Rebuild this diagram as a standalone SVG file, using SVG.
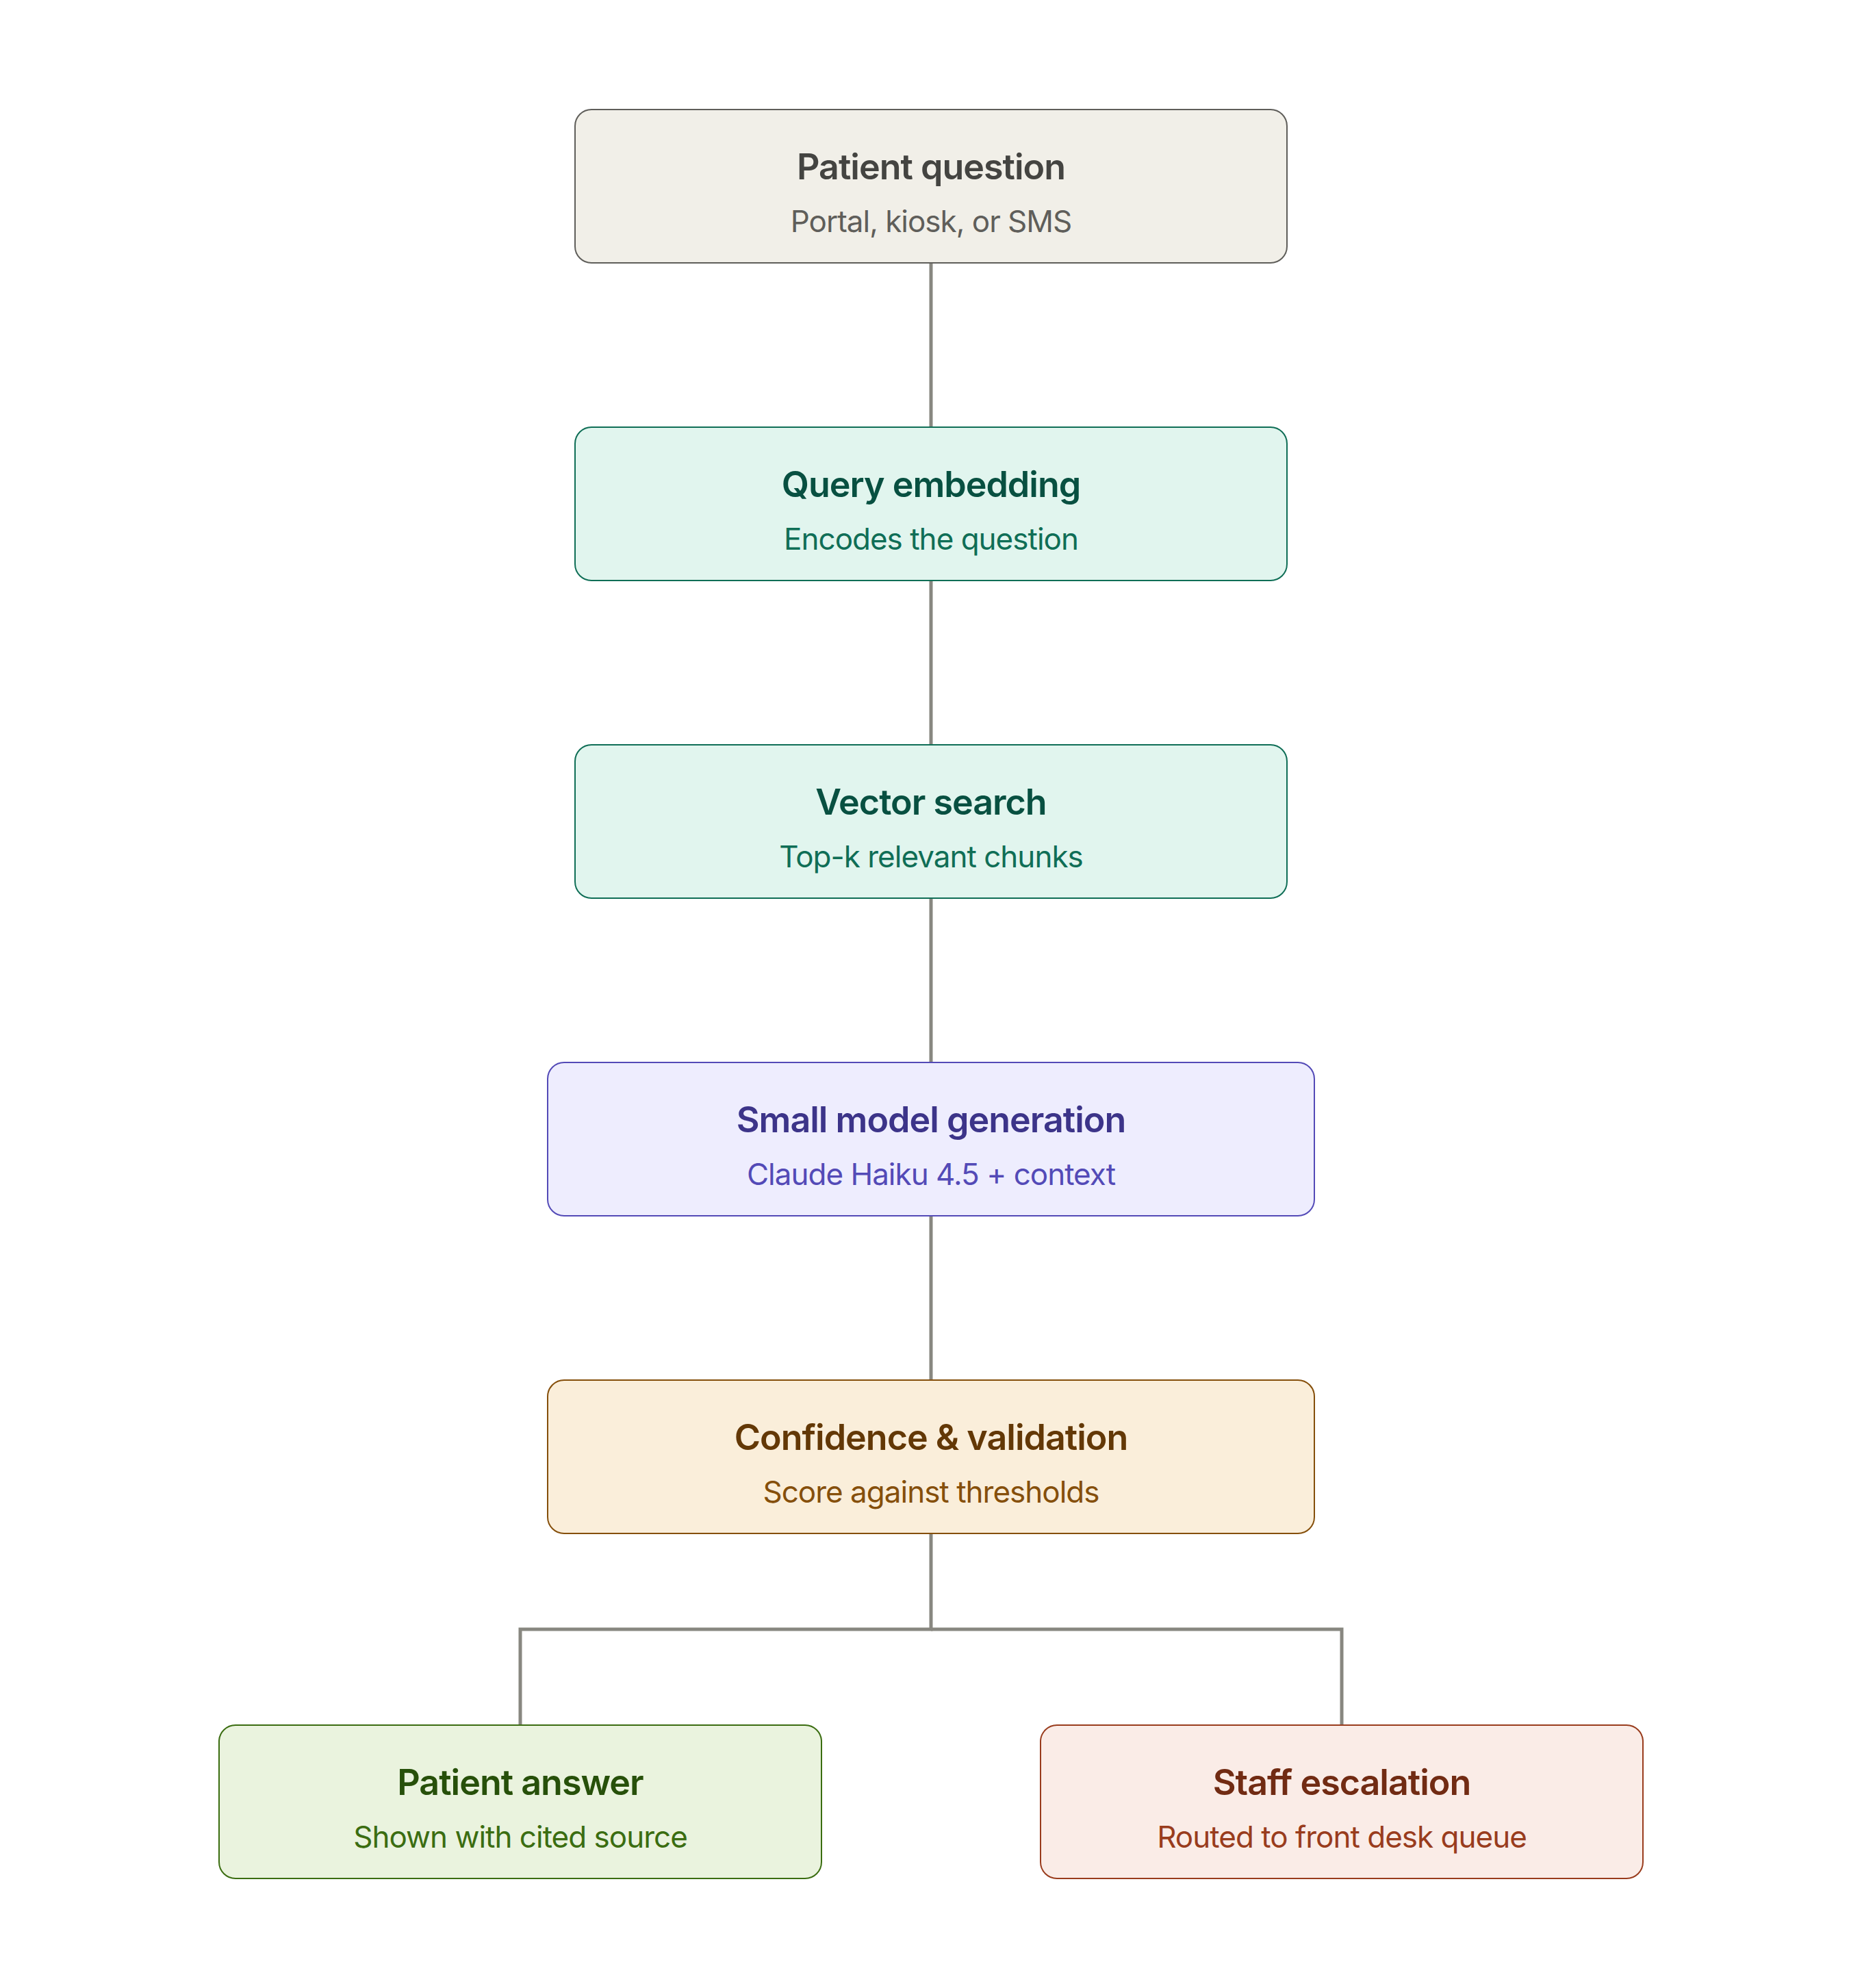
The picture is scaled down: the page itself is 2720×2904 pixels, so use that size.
<svg xmlns="http://www.w3.org/2000/svg" width="2720" height="2904" viewBox="0 0 2720 2904">
<style>
.box{stroke-width:2}
.t{font-family:Inter,"Liberation Sans",sans-serif;font-size:52px;font-weight:600;text-anchor:middle;letter-spacing:-1px}
.s{font-family:Inter,"Liberation Sans",sans-serif;font-size:44px;font-weight:400;text-anchor:middle;letter-spacing:-1px}
.conn{fill:none;stroke:#888780;stroke-width:5}
</style>
<rect width="2720" height="2904" fill="#ffffff"/>
<g id="connectors">
<path class="conn" d="M1360 384V624"/>
<path class="conn" d="M1360 848V1088"/>
<path class="conn" d="M1360 1312V1552"/>
<path class="conn" d="M1360 1776V2016"/>
<path class="conn" d="M1360 2240V2380H760V2520"/>
<path class="conn" d="M1360 2380H1960V2520"/>
</g>
<g id="patient-question">
<rect class="box" x="840" y="160" width="1040" height="224" rx="24" fill="#f1efe8" stroke="#5f5e5a"/>
<text class="t" x="1360" y="262" fill="#444441">Patient question</text>
<text class="s" x="1360" y="339" fill="#5f5e5a">Portal, kiosk, or SMS</text>
</g>
<g id="query-embedding">
<rect class="box" x="840" y="624" width="1040" height="224" rx="24" fill="#e1f5ee" stroke="#0f6e56"/>
<text class="t" x="1360" y="726" fill="#085041">Query embedding</text>
<text class="s" x="1360" y="803" fill="#0f6e56">Encodes the question</text>
</g>
<g id="vector-search">
<rect class="box" x="840" y="1088" width="1040" height="224" rx="24" fill="#e1f5ee" stroke="#0f6e56"/>
<text class="t" x="1360" y="1190" fill="#085041">Vector search</text>
<text class="s" x="1360" y="1267" fill="#0f6e56">Top-k relevant chunks</text>
</g>
<g id="small-model-generation">
<rect class="box" x="800" y="1552" width="1120" height="224" rx="24" fill="#eeedfe" stroke="#534ab7"/>
<text class="t" x="1360" y="1654" fill="#3c3489">Small model generation</text>
<text class="s" x="1360" y="1731" fill="#534ab7">Claude Haiku 4.5 + context</text>
</g>
<g id="confidence-validation">
<rect class="box" x="800" y="2016" width="1120" height="224" rx="24" fill="#faeeda" stroke="#854f0b"/>
<text class="t" x="1360" y="2118" fill="#633806">Confidence &amp; validation</text>
<text class="s" x="1360" y="2195" fill="#854f0b">Score against thresholds</text>
</g>
<g id="patient-answer">
<rect class="box" x="320" y="2520" width="880" height="224" rx="24" fill="#eaf3de" stroke="#3b6d11"/>
<text class="t" x="760" y="2622" fill="#27500a">Patient answer</text>
<text class="s" x="760" y="2699" fill="#3b6d11">Shown with cited source</text>
</g>
<g id="staff-escalation">
<rect class="box" x="1520" y="2520" width="880" height="224" rx="24" fill="#faece7" stroke="#993c1d"/>
<text class="t" x="1960" y="2622" fill="#712b13">Staff escalation</text>
<text class="s" x="1960" y="2699" fill="#993c1d">Routed to front desk queue</text>
</g>
</svg>
